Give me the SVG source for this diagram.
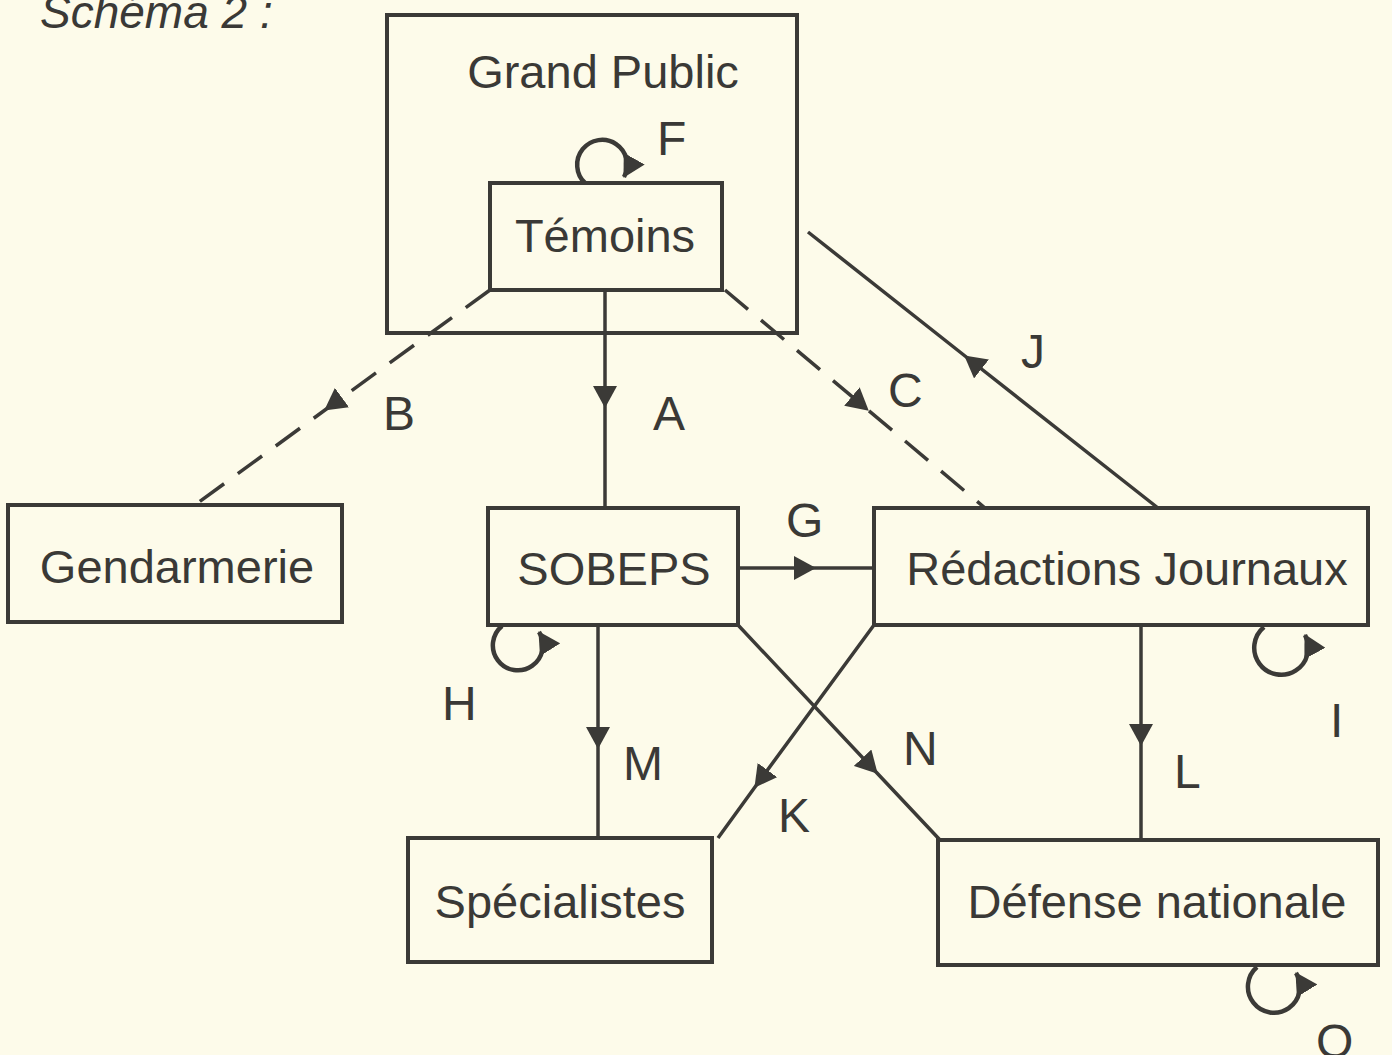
<svg xmlns="http://www.w3.org/2000/svg" width="1392" height="1055" viewBox="0 0 1392 1055">
  <style>
    .box { fill: none; stroke: #3b3a37; stroke-width: 4; }
    .line { fill: none; stroke: #3b3a37; stroke-width: 3.5; }
    .dash { stroke-dasharray: 30 17; }
    .arr { marker-mid: url(#head); }
    .loop { fill: none; stroke: #3b3a37; stroke-width: 4.5; marker-end: url(#head); }
    text { font-family: "Liberation Sans", Arial, sans-serif; fill: #3a3936; }
    .node { font-size: 47px; text-anchor: middle; }
    .lbl { font-size: 48px; }
    .title { font-size: 46px; font-style: italic; }
  </style>
  <defs>
    <marker id="head" viewBox="0 0 22 24" refX="21" refY="12" markerWidth="22" markerHeight="24" markerUnits="userSpaceOnUse" orient="auto">
      <path d="M0,0 L22,12 L0,24 z" fill="#3b3a37"/>
    </marker>
  </defs>

  <rect width="1392" height="1055" fill="#fdfbea"/>

  <text class="title" x="40" y="28">Schéma 2 :</text>

  <!-- nodes -->
  <g id="grand-public">
    <rect class="box" x="387" y="15" width="410" height="318"/>
    <text class="node" x="603" y="88">Grand Public</text>
  </g>
  <g id="temoins">
    <rect class="box" x="490" y="183" width="232" height="107"/>
    <text class="node" x="605" y="252">Témoins</text>
  </g>
  <g id="gendarmerie">
    <rect class="box" x="8" y="505" width="334" height="117"/>
    <text class="node" x="177" y="583">Gendarmerie</text>
  </g>
  <g id="sobeps">
    <rect class="box" x="488" y="508" width="250" height="117"/>
    <text class="node" x="614" y="585">SOBEPS</text>
  </g>
  <g id="redactions">
    <rect class="box" x="874" y="508" width="494" height="117"/>
    <text class="node" x="1127" y="585">Rédactions Journaux</text>
  </g>
  <g id="specialistes">
    <rect class="box" x="408" y="838" width="304" height="124"/>
    <text class="node" x="560" y="918">Spécialistes</text>
  </g>
  <g id="defense">
    <rect class="box" x="938" y="840" width="440" height="125"/>
    <text class="node" x="1157" y="918">Défense nationale</text>
  </g>

  <!-- connectors -->
  <g id="connectors">
    <!-- A -->
    <path class="line arr" d="M605,290 L605,407 L605,508"/>
    <!-- B -->
    <path class="line dash arr" d="M490,290 L325,410 L195,505"/>
    <!-- C -->
    <path class="line dash arr" d="M725,290 L868,410 L985,508"/>
    <!-- J -->
    <path class="line arr" d="M1158,508 L965,356 L808,232"/>
    <!-- G -->
    <path class="line arr" d="M738,568 L815,568 L874,568"/>
    <!-- K -->
    <path class="line arr" d="M874,625 L755,787 L718,838"/>
    <!-- N -->
    <path class="line arr" d="M738,625 L877,773 L940,840"/>
    <!-- M -->
    <path class="line arr" d="M598,625 L598,748 L598,838"/>
    <!-- L -->
    <path class="line arr" d="M1141,625 L1141,745 L1141,840"/>
    <!-- self loops F, H, I, O -->
    <path class="loop" d="M585,183 A25,25 0 1 1 624,177"/>
    <path class="loop" d="M502,626 A25,25 0 1 0 539,632"/>
    <path class="loop" d="M1264,627 A27,27 0 1 0 1305,635"/>
    <path class="loop" d="M1257,967 A26,26 0 1 0 1296,973"/>
  </g>

  <!-- connector labels -->
  <g id="labels">
    <text class="lbl" x="657" y="155">F</text>
    <text class="lbl" x="653" y="430">A</text>
    <text class="lbl" x="383" y="430">B</text>
    <text class="lbl" x="888" y="407">C</text>
    <text class="lbl" x="1021" y="368">J</text>
    <text class="lbl" x="786" y="537">G</text>
    <text class="lbl" x="442" y="720">H</text>
    <text class="lbl" x="623" y="780">M</text>
    <text class="lbl" x="778" y="832">K</text>
    <text class="lbl" x="903" y="765">N</text>
    <text class="lbl" x="1174" y="788">L</text>
    <text class="lbl" x="1330" y="737">I</text>
    <text class="lbl" x="1316" y="1058">O</text>
  </g>
</svg>
